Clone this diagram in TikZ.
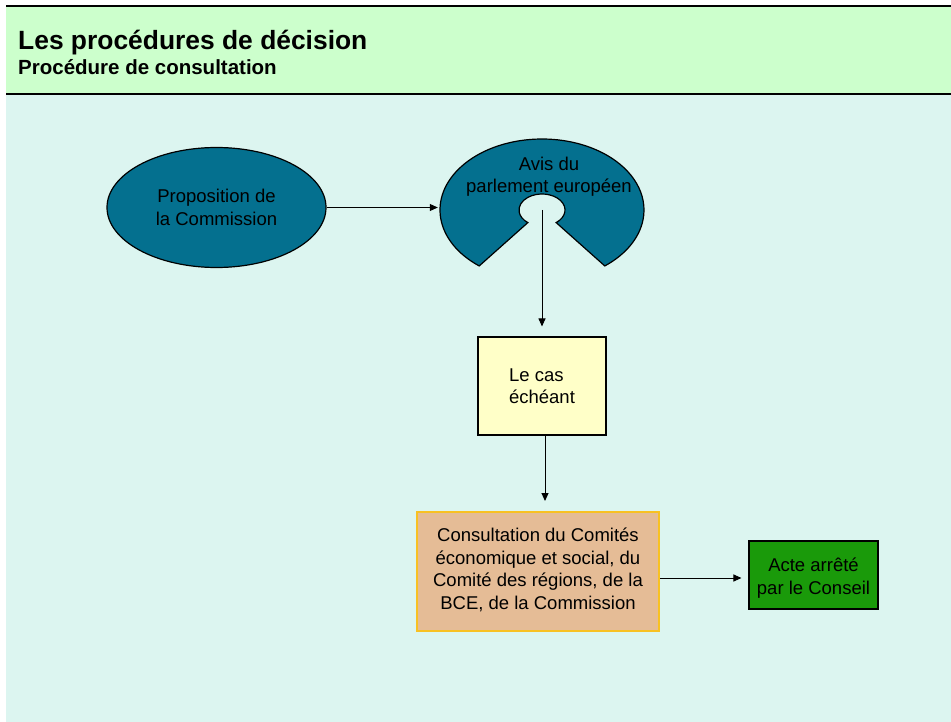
\documentclass[tikz,border=0pt]{standalone}
\usepackage{fontspec}
\setmainfont{Liberation Sans}
\usetikzlibrary{shapes.geometric,arrows.meta,calc}
\definecolor{headgreen}{HTML}{CCFFCC}
\definecolor{bodycyan}{HTML}{DCF5F0}
\definecolor{tealfill}{HTML}{04708F}
\definecolor{yellowfill}{HTML}{FFFFC8}
\definecolor{tanfill}{HTML}{E5BC96}
\definecolor{goldline}{HTML}{F8C123}
\definecolor{actegreen}{HTML}{1A9A0A}
\tikzset{
  bodytext/.style={font=\fontsize{18.5}{22.5}\selectfont, text=black},
  tealshape/.style={draw=black, fill=tealfill, line width=1.2pt},
  boxnode/.style={rectangle, draw=black, line width=1.1pt, inner sep=0pt, bodytext},
  arr/.style={-{Triangle[length=8pt,width=7pt]}, line width=1pt, black},
}
\begin{document}
\begin{tikzpicture}[x=1pt,y=-1pt]
\useasboundingbox (0,0) rectangle (951,722);
% background panels
\fill[white] (0,0) rectangle (951,722);
\fill[bodycyan] (6,94) rectangle (951,722);
\fill[headgreen] (6,6) rectangle (951,94);
\draw[line width=1.4pt] (6,6) -- (951,6);
\draw[line width=1.4pt] (6,94) -- (951,94);
\node[anchor=base west, inner sep=0pt, font=\bfseries\fontsize{26.4}{30}\selectfont] (title) at (18,49.5) {Les procédures de décision};
\node[anchor=base west, inner sep=0pt, font=\bfseries\fontsize{20.5}{24}\selectfont] (subtitle) at (18,75) {Procédure de consultation};

% Proposition ellipse
\node[ellipse, tealshape, minimum width=219pt, minimum height=120pt, inner sep=0pt, bodytext, align=center] (prop) at (216.5,207.5) {Proposition de\\la Commission};

% Avis du parlement (block arc)
\node[ellipse, minimum width=204pt, minimum height=142pt, inner sep=0pt] (avis) at (542,210) {};
\draw[tealshape] ($(avis.center)+(128:102 and 71)$)
  arc[start angle=128, end angle=412, x radius=102, y radius=71]
  -- ($(avis.center)+(52:23 and 16)$)
  arc[start angle=412, end angle=128, x radius=23, y radius=16]
  -- cycle;
\node[bodytext, align=center, inner sep=0pt] (avistext) at (549,176.5) {Avis du\\parlement européen};

% Le cas échéant
\node[boxnode, fill=yellowfill, minimum width=128pt, minimum height=98pt, align=left] (cas) at (542,386) {Le cas\\échéant};

% Consultation
\node[rectangle, draw=goldline, line width=2pt, fill=tanfill, minimum width=242pt, minimum height=119pt, inner sep=0pt, bodytext, align=center] (cons) at (538,571.5) {Consultation du Comités\\économique et social, du\\Comité des régions, de la\\BCE, de la Commission\rule[-6pt]{0pt}{6pt}};

% Acte arrêté
\node[boxnode, fill=actegreen, minimum width=129pt, minimum height=68pt, align=center] (acte) at (813.5,575) {\rule{0pt}{20pt}Acte arrêté\\par le Conseil};

% connectors
\draw[arr, shorten >=2pt] (prop.east) -- (prop.east -| avis.west);
\draw[arr, shorten >=10pt] (avis.center) -- (avis.center |- cas.north);
\draw[arr, shorten >=10pt] ([xshift=3pt]cas.south) -- ([xshift=3pt]cas.south |- cons.north);
\draw[arr, shorten >=7pt] ([yshift=-6.5pt]cons.east) -- ([yshift=-6.5pt]cons.east -| acte.west);
\end{tikzpicture}
\end{document}
